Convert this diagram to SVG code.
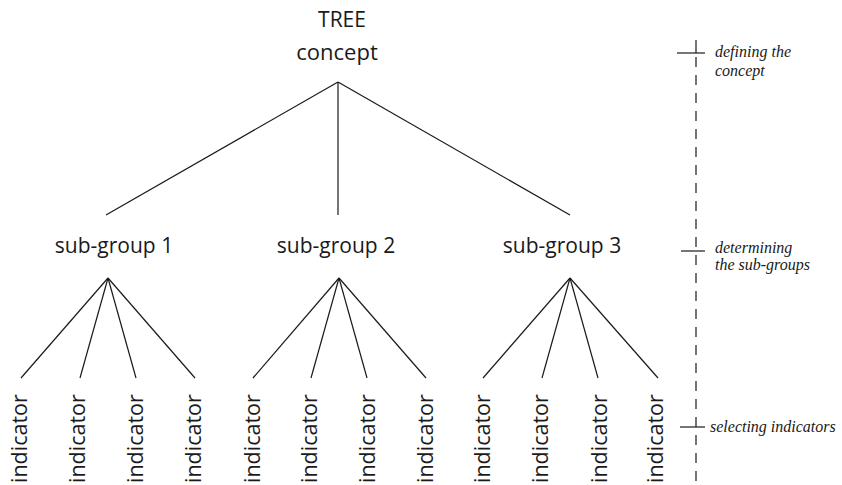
<svg xmlns="http://www.w3.org/2000/svg" width="842" height="485" viewBox="0 0 842 485">
<style>
.t{font-family:"Open Sans","Liberation Sans",sans-serif;fill:#1a1a1a;}
.big{font-size:22px;text-anchor:middle;}
.ind{font-size:21.5px;}
.note{font-family:"Liberation Serif","DejaVu Serif",serif;font-style:italic;font-size:16px;fill:#1a1a1a;}
.ln{stroke:#1a1a1a;stroke-width:1.2;fill:none;}
</style>
<rect width="842" height="485" fill="#ffffff"/>
<g id="connectors" class="ln">
<line x1="338" y1="82" x2="106" y2="215"/>
<line x1="338" y1="82" x2="338" y2="215"/>
<line x1="338" y1="82" x2="570" y2="215"/>
<line x1="108" y1="278" x2="21" y2="378"/>
<line x1="108" y1="278" x2="80" y2="378"/>
<line x1="108" y1="278" x2="136" y2="378"/>
<line x1="108" y1="278" x2="195" y2="378"/>
<line x1="339" y1="278" x2="253" y2="378"/>
<line x1="339" y1="278" x2="311" y2="378"/>
<line x1="339" y1="278" x2="367" y2="378"/>
<line x1="339" y1="278" x2="426" y2="378"/>
<line x1="570" y1="278" x2="483" y2="378"/>
<line x1="570" y1="278" x2="542" y2="378"/>
<line x1="570" y1="278" x2="598" y2="378"/>
<line x1="570" y1="278" x2="658" y2="378"/>
</g>
<g id="root">
<text class="t big" x="342" y="27" style="font-size:21px">TREE</text>
<text class="t big" x="337" y="60">concept</text>
</g>
<g id="subgroup1"><text class="t big" x="114" y="253" style="font-size:21px">sub-group 1</text></g>
<g id="subgroup2"><text class="t big" x="336" y="253" style="font-size:21px">sub-group 2</text></g>
<g id="subgroup3"><text class="t big" x="562" y="253" style="font-size:21px">sub-group 3</text></g>
<g id="indicators1">
<text class="t ind" transform="translate(27,483) rotate(-90)">indicator</text>
<text class="t ind" transform="translate(85,483) rotate(-90)">indicator</text>
<text class="t ind" transform="translate(143,483) rotate(-90)">indicator</text>
<text class="t ind" transform="translate(201,483) rotate(-90)">indicator</text>
</g>
<g id="indicators2">
<text class="t ind" transform="translate(260,483) rotate(-90)">indicator</text>
<text class="t ind" transform="translate(317,483) rotate(-90)">indicator</text>
<text class="t ind" transform="translate(375,483) rotate(-90)">indicator</text>
<text class="t ind" transform="translate(433,483) rotate(-90)">indicator</text>
</g>
<g id="indicators3">
<text class="t ind" transform="translate(490,483) rotate(-90)">indicator</text>
<text class="t ind" transform="translate(548,483) rotate(-90)">indicator</text>
<text class="t ind" transform="translate(607,483) rotate(-90)">indicator</text>
<text class="t ind" transform="translate(663,483) rotate(-90)">indicator</text>
</g>
<g id="scale">
<line class="ln" x1="696" y1="40" x2="696" y2="53"/>
<line class="ln" x1="696" y1="57" x2="696" y2="483" stroke-dasharray="10 8"/>
<line class="ln" x1="677" y1="53" x2="705" y2="53"/>
<line class="ln" x1="681" y1="251" x2="705" y2="251"/>
<line class="ln" x1="680" y1="427" x2="705" y2="427"/>
<text class="note" x="715" y="57">defining the</text>
<text class="note" x="715" y="76">concept</text>
<text class="note" x="715" y="253">determining</text>
<text class="note" x="715" y="270">the sub-groups</text>
<text class="note" x="710" y="432">selecting indicators</text>
</g>
</svg>
